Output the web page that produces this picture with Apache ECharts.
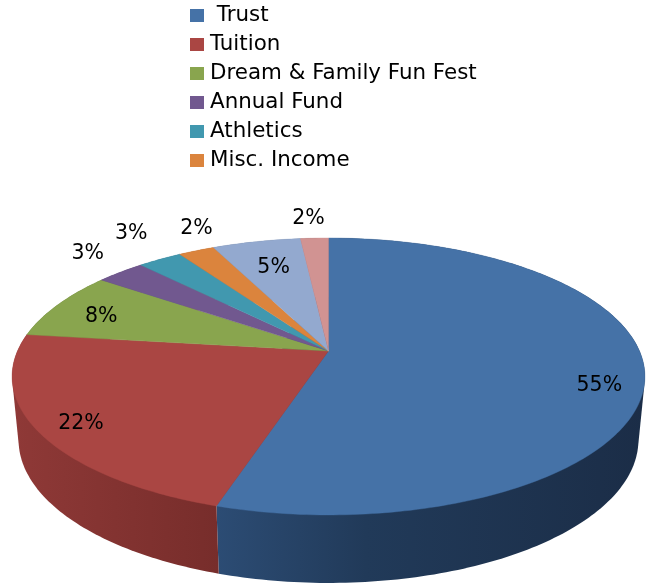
<!DOCTYPE html>
<html lang="en">

<head>
    <meta charset="UTF-8">
    <title>income pie</title>
    <script src="https://cdn.jsdelivr.net/npm/echarts@6/dist/echarts.min.js"></script>
    <style>
        html, body { margin: 0; padding: 0; background: #fff; }
    </style>
</head>

<body>
    <div id="main" style="width: 648px;height: 583px;"></div>
    <script>
        // the last two slices have no legend entry in the picture
        var sliceNames = ['Trust', 'Tuition', 'Dream & Family Fun Fest', 'Annual Fund', 'Athletics', 'Misc. Income', 'Other A', 'Other B']
        var legendNames = ['Trust', 'Tuition', 'Dream & Family Fun Fest', 'Annual Fund', 'Athletics', 'Misc. Income']
        var sliceValues = [54.8, 22.2, 8, 3, 2.7, 2.2, 5.4, 1.7]

        var faceColors = ['#4572A7', '#AA4643', '#89A54E', '#71588F', '#4198AF', '#DB843D', '#93A9CF', '#D19392']
        // left and right colour of the rim, only the first two can be seen
        var rimColors = [
            [[0, '#2c4c74'], [0.35, '#213a59'], [1, '#1b2d47']],
            [[0, '#8f3937'], [1, '#772d2b']],
            [[0, '#5c6f34'], [1, '#5c6f34']],
            [[0, '#4b3b60'], [1, '#4b3b60']],
            [[0, '#2b6575'], [1, '#2b6575']],
            [[0, '#925829'], [1, '#925829']],
            [[0, '#62718a'], [1, '#62718a']],
            [[0, '#8b6261'], [1, '#8b6261']]
        ]
        // label placement: fraction of the radius, then a shift down in px
        var labelRadius = [0.86, 0.865, 0.83, 1.18, 1.2, 1.0, 0.73, 1.55]
        var labelShift = [17, 4.5, 4, -6, -10, -21.5, -0.5, 28.5]

        // perspective of the disc, top face ellipse goes through these
        var centerX = 328.5
        var apexY = 351
        var radiusX = 311
        var tilt = 0.184
        var foreshorten = -69.2
        // bottom edge of the rim, as a scaled copy of the top ellipse
        var topMidY = 376.5
        var bottomMidY = 440
        var bottomScaleX = 310 / 316.5
        var bottomScaleY = 143 / 138.5

        var total = sliceValues.reduce(function (a, b) { return a + b }, 0)

        // value share -> point on the tilted disc, r = 1 is the rim
        function project(angle, r) {
            var s = Math.sin(angle)
            var c = Math.cos(angle)
            var d = 1 + tilt * r * c
            return [centerX + radiusX * r * s / d, (foreshorten * r * c + apexY) / d]
        }

        function lower(p) {
            return [centerX + (p[0] - centerX) * bottomScaleX, bottomMidY + (p[1] - topMidY) * bottomScaleY]
        }

        function arcPoints(from, to) {
            var n = Math.max(8, Math.ceil((to - from) / (Math.PI / 180)))
            var pts = []
            for (var i = 0; i <= n; i++) {
                pts.push(project(from + (to - from) * i / n, 1))
            }
            return pts
        }

        // the rim outline is the hull of top and bottom edge, faces cover the rest
        function hull(points) {
            var pts = points.slice().sort(function (a, b) { return a[0] - b[0] || a[1] - b[1] })
            function cross(o, a, b) {
                return (a[0] - o[0]) * (b[1] - o[1]) - (a[1] - o[1]) * (b[0] - o[0])
            }
            function half(list) {
                var out = []
                list.forEach(function (p) {
                    while (out.length > 1 && cross(out[out.length - 2], out[out.length - 1], p) <= 0) out.pop()
                    out.push(p)
                })
                out.pop()
                return out
            }
            return half(pts).concat(half(pts.slice().reverse()))
        }

        var startShares = []
        sliceValues.reduce(function (sum, v) {
            startShares.push(sum)
            return sum + v
        }, 0)

        function renderSlice(index) {
            return function (params, api) {
                var value = api.value(0)
                var from = startShares[index] / total * Math.PI * 2
                var to = from + value / total * Math.PI * 2
                var mid = (from + to) / 2
                var rim = arcPoints(from, to)
                var face = [project(0, 0)].concat(rim)
                var side = hull(rim.concat(rim.map(lower)))
                var labelAt = project(mid, labelRadius[index])
                return {
                    type: 'group',
                    children: [
                        {
                            type: 'polygon',
                            z2: 1,
                            shape: { points: side },
                            style: {
                                fill: new echarts.graphic.LinearGradient(0, 0, 1, 0, rimColors[index].map(function (s) {
                                    return { offset: s[0], color: s[1] }
                                }))
                            }
                        },
                        {
                            type: 'polygon',
                            z2: 2,
                            shape: { points: face },
                            style: { fill: faceColors[index], stroke: faceColors[index], lineWidth: 0.4 }
                        },
                        {
                            type: 'text',
                            z2: 3,
                            x: labelAt[0],
                            y: labelAt[1] + labelShift[index],
                            style: {
                                text: Math.round(value / total * 100) + '%',
                                fill: '#000',
                                font: '20.5px "DejaVu Sans"',
                                textAlign: 'center',
                                textVerticalAlign: 'middle'
                            }
                        }
                    ]
                }
            }
        }

        var myCharts = echarts.init(document.getElementById('main'))
        var option = {
            animation: false,
            color: faceColors,
            legend: {
                data: legendNames,
                orient: 'vertical',
                left: 190,
                top: 3,
                padding: 0,
                itemWidth: 14,
                itemHeight: 13,
                itemGap: 4,
                icon: 'rect',
                formatter: function (name) {
                    return name === 'Trust' ? ' Trust' : name
                },
                textStyle: {
                    fontFamily: 'DejaVu Sans',
                    fontSize: 21.4,
                    color: '#000',
                    height: 23,
                    lineHeight: 23,
                    padding: [2, 0, 0, 1]
                }
            },
            series: sliceNames.map(function (name, i) {
                return {
                    name: name,
                    type: 'custom',
                    coordinateSystem: 'none',
                    renderItem: renderSlice(i),
                    data: [sliceValues[i]]
                }
            })
        }
        myCharts.setOption(option)
    </script>
</body>

</html>
